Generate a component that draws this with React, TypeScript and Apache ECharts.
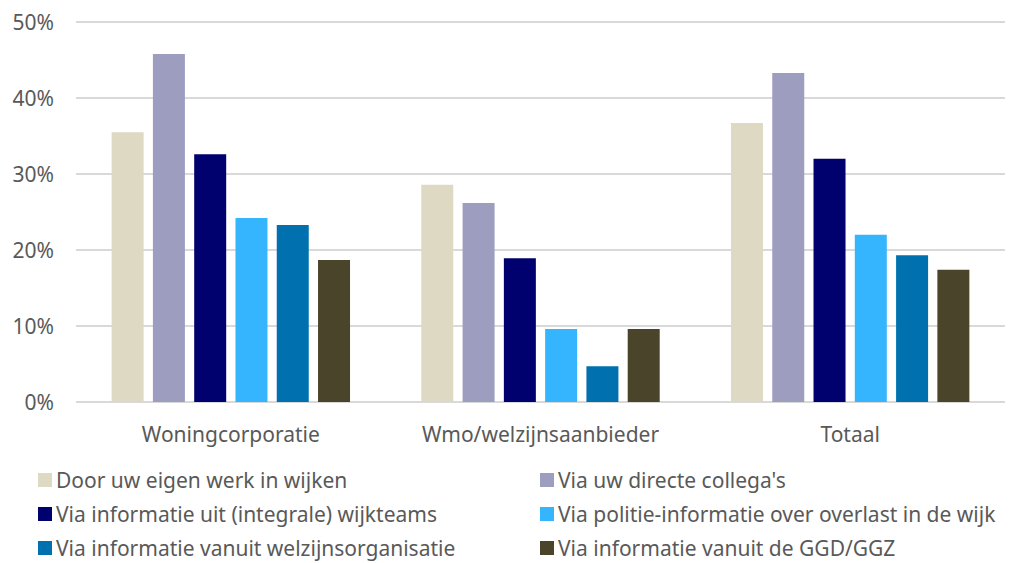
import React, { useEffect, useRef } from "react";
import * as echarts from "echarts";

const categories = ["Woningcorporatie", "Wmo/welzijnsaanbieder", "Totaal"];
const seriesNames = [
  "Door uw eigen werk in wijken",
  "Via uw directe collega's",
  "Via informatie uit (integrale) wijkteams",
  "Via politie-informatie over overlast in de wijk",
  "Via informatie vanuit welzijnsorganisatie",
  "Via informatie vanuit de GGD/GGZ",
];
const eigenWerk = [35.5, 28.6, 36.7];
const collegas = [45.8, 26.2, 43.3];
const wijkteams = [32.6, 18.9, 32.0];
const politie = [24.2, 9.6, 22.0];
const welzijn = [23.3, 4.7, 19.3];
const ggd = [18.7, 9.6, 17.4];
const seriesValues = [eigenWerk, collegas, wijkteams, politie, welzijn, ggd];
const colors = ["#DDD9C3", "#9D9DC0", "#00006E", "#36B5FF", "#0070AE", "#4A442B"];

const FONT = "Noto Sans";
const TEXT = "#595959";

export default function App() {
  const ref = useRef<HTMLDivElement>(null);
  useEffect(() => {
    const chart = echarts.init(ref.current!, null, { renderer: "svg" });
    const legendCommon = {
      orient: "vertical" as const,
      top: 464,
      height: 100,
      padding: [5, 5, 0, 5],
      itemWidth: 14,
      itemHeight: 14,
      itemGap: 12,
      icon: "rect",
      textStyle: { fontFamily: FONT, fontSize: 21, color: TEXT, lineHeight: 22, padding: [0, 0, 0, -1] },
    };
    chart.setOption({
      animation: false,
      color: colors,
      grid: { left: 76, right: 5, top: 22, bottom: 161, containLabel: false },
      legend: [
        { ...legendCommon, left: 33, data: [seriesNames[0], seriesNames[2], seriesNames[4]] },
        { ...legendCommon, left: 535, data: [seriesNames[1], seriesNames[3], seriesNames[5]] },
      ],
      xAxis: {
        type: "category",
        data: categories,
        axisLine: { show: false },
        axisTick: { show: false },
        axisLabel: { fontFamily: FONT, fontSize: 21, color: TEXT, margin: 21 },
      },
      yAxis: {
        type: "value",
        min: 0,
        max: 50,
        interval: 10,
        axisLabel: { formatter: "{value}%", fontFamily: FONT, fontSize: 21, color: TEXT, margin: 22 },
        splitLine: { lineStyle: { color: "#D9D9D9", width: 2 } },
      },
      series: seriesNames.map((name, i) => ({
        name,
        type: "bar",
        data: seriesValues[i],
        barWidth: 32,
        barGap: "29%",
        itemStyle: { color: colors[i] },
      })),
    });
    return () => chart.dispose();
  }, []);
  return <div ref={ref} style={{ width: 1010, height: 563, position: "absolute", left: 0, top: 0 }} />;
}
